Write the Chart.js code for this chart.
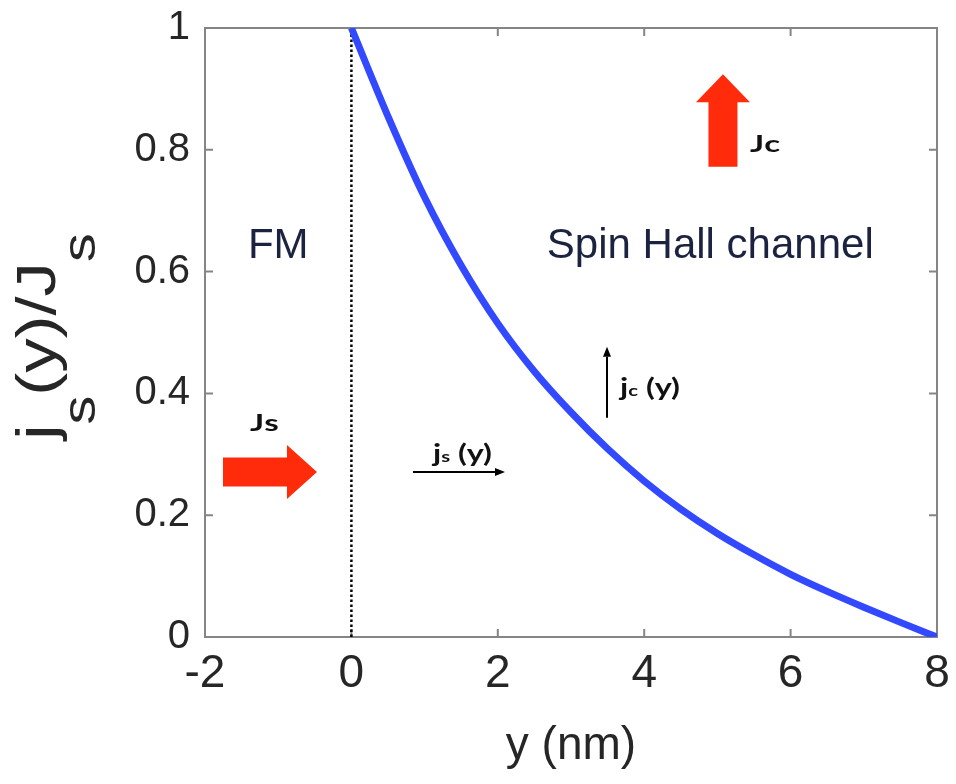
<!DOCTYPE html>
<html>
<head>
<meta charset="utf-8">
<script src="https://cdn.jsdelivr.net/npm/chart.js@4.4.1/dist/chart.umd.min.js"></script>
<style>
  html, body { margin: 0; padding: 0; background: #fff; }
  #wrap { width: 956px; height: 784px; }
</style>
</head>
<body>
<div id="wrap"><canvas id="chart"></canvas></div>
<script>
// values
const yPos = [0, 0.5, 1, 1.5, 2, 2.5, 3, 3.5, 4, 4.5, 5, 5.5, 6, 6.5, 7, 7.5, 8];
const spinCurrent = [1.0, 0.855, 0.722, 0.610, 0.515, 0.436, 0.369, 0.309, 0.256, 0.210, 0.170, 0.135, 0.103, 0.075, 0.049, 0.024, 0.0];
const interfaceX = [0, 0];
const interfaceY = [0, 1];
const xTicks = [-2, 0, 2, 4, 6, 8];
const yTicks = [0, 0.2, 0.4, 0.6, 0.8, 1];

const SANS = "'Liberation Sans', Arial, sans-serif";
const BOLD = "Lato, 'Open Sans', sans-serif";
const RED = '#ff2b0a';
Chart.defaults.font.family = SANS;

let ctx = document.getElementById('chart').getContext('2d');

function bigArrowH(c, x0, xh, tip, y, bw, hw) {
    c.beginPath();
    c.moveTo(x0, y - bw); c.lineTo(xh, y - bw); c.lineTo(xh, y - hw);
    c.lineTo(tip, y); c.lineTo(xh, y + hw); c.lineTo(xh, y + bw);
    c.lineTo(x0, y + bw); c.closePath(); c.fill();
}
function bigArrowV(c, x, y0, yh, tip, bw, hw) {
    c.beginPath();
    c.moveTo(x - bw, y0); c.lineTo(x - bw, yh); c.lineTo(x - hw, yh);
    c.lineTo(x, tip); c.lineTo(x + hw, yh); c.lineTo(x + bw, yh);
    c.lineTo(x + bw, y0); c.closePath(); c.fill();
}
function thinArrow(c, x0, y0, x1, y1) {
    const a = Math.atan2(y1 - y0, x1 - x0), L = 10, W = 4;
    c.beginPath(); c.moveTo(x0, y0);
    c.lineTo(x1 - L * Math.cos(a), y1 - L * Math.sin(a)); c.stroke();
    c.beginPath(); c.moveTo(x1, y1);
    c.lineTo(x1 - L * Math.cos(a) + W * Math.sin(a), y1 - L * Math.sin(a) - W * Math.cos(a));
    c.lineTo(x1 - L * Math.cos(a) - W * Math.sin(a), y1 - L * Math.sin(a) + W * Math.cos(a));
    c.closePath(); c.fill();
}
// text pieces one after another, optionally stretched sideways
function runs(c, x, y, parts, sx = 1) {
    c.save();
    c.translate(x, y);
    c.scale(sx, 1);
    let u = 0;
    parts.forEach(([t, font, dy]) => {
        c.font = font;
        c.fillText(t, u, dy);
        u += c.measureText(t).width;
    });
    c.restore();
}

const frame = {
    id: 'frame',
    beforeDatasetsDraw(chart) {
        const {ctx: c, chartArea: a, scales: {x, y}} = chart;
        c.save();
        c.strokeStyle = '#858585';
        c.lineWidth = 2;
        c.strokeRect(a.left, a.top, a.right - a.left, a.bottom - a.top);
        c.beginPath();
        xTicks.forEach(v => {
            const p = x.getPixelForValue(v);
            c.moveTo(p, a.bottom); c.lineTo(p, a.bottom - 8);
            c.moveTo(p, a.top); c.lineTo(p, a.top + 8);
        });
        yTicks.forEach(v => {
            const p = y.getPixelForValue(v);
            c.moveTo(a.left, p); c.lineTo(a.left + 8, p);
            c.moveTo(a.right, p); c.lineTo(a.right - 8, p);
        });
        c.stroke();
        c.restore();
    },
    afterDraw(chart) {
        const {ctx: c, chartArea: a, scales: {x, y}} = chart;
        const X = v => x.getPixelForValue(v), Y = v => y.getPixelForValue(v);
        c.save();
        c.textBaseline = 'alphabetic';

        // y axis title, j_s(y)/J_s
        c.fillStyle = '#262626';
        const parts = [['j', '55px ' + SANS, 0], ['s', '46px ' + SANS, 40],
                       ['(y)/J', '55px ' + SANS, 0], ['s', '46px ' + SANS, 40]];
        let len = 0;
        parts.forEach(([t, f]) => { c.font = f; len += c.measureText(t).width; });
        const sx = 1.25;
        c.save();
        c.translate(55, (a.top + a.bottom) / 2 + 4);
        c.rotate(-Math.PI / 2);
        runs(c, -len * sx / 2, 0, parts, sx);
        c.restore();

        // region labels
        c.fillStyle = '#1c2340';
        c.font = '42px ' + SANS;
        c.fillText('FM', X(-1.414), Y(0.623));
        c.fillText('Spin Hall channel', X(2.67), Y(0.623));

        // red current arrows
        c.fillStyle = RED;
        bigArrowH(c, X(-1.754), X(-0.88), X(-0.47), Y(0.271), 14.5, 27);
        bigArrowV(c, X(5.076), Y(0.772), Y(0.878), Y(0.924), 14.5, 27);

        // bold labels
        c.fillStyle = '#111';
        runs(c, X(-1.385), Y(0.339), [['J', 'bold 22px ' + BOLD, 0], ['s', 'bold 22px ' + BOLD, 0]], 1.5);
        runs(c, X(5.445), Y(0.797), [['J', 'bold 22px ' + BOLD, 0], ['c', 'bold 22px ' + BOLD, 0]], 1.5);
        runs(c, X(1.114), Y(0.288), [['j', 'bold 24px ' + BOLD, 0], ['s', 'bold 15px ' + BOLD, 0], [' (y)', 'bold 24px ' + BOLD, 0]], 1.35);
        runs(c, X(3.67), Y(0.396), [['j', 'bold 24px ' + BOLD, 0], ['c', 'bold 15px ' + BOLD, 0], [' (y)', 'bold 24px ' + BOLD, 0]], 1.35);

        // thin arrows
        c.strokeStyle = '#000';
        c.fillStyle = '#000';
        c.lineWidth = 2;
        thinArrow(c, X(0.841), Y(0.271), X(2.098), Y(0.271));
        thinArrow(c, X(3.492), Y(0.36), X(3.492), Y(0.4766));
        c.restore();
    }
};

let myChart = new Chart(ctx, {
    type: 'scatter',
    data: {
        datasets: [{
            label: 'js(y)/Js',
            data: yPos.map((v, i) => ({x: v, y: spinCurrent[i]})),
            showLine: true,
            borderColor: '#3349ff',
            borderWidth: 7,
            pointRadius: 0,
            cubicInterpolationMode: 'monotone',
            order: 1
        },
        {
            label: 'interface',
            data: interfaceX.map((v, i) => ({x: v, y: interfaceY[i]})),
            showLine: true,
            borderColor: '#000',
            borderWidth: 2.5,
            borderDash: [2.5, 2.5],
            pointRadius: 0,
            order: 2
        }]
    },
    options: {
        responsive: true,
        maintainAspectRatio: false,
        animation: false,
        layout: { padding: { top: 28, right: 19, left: 0, bottom: 0 } },
        scales: {
            x: {
                type: 'linear',
                min: -2, max: 8,
                afterBuildTicks: s => { s.ticks = xTicks.map(v => ({value: v})); },
                afterFit: s => { s.height = 147; s.paddingLeft = 0; s.paddingRight = 0; },
                grid: { display: false, drawTicks: false },
                border: { display: false },
                ticks: { color: '#262626', font: { size: 46 }, padding: 10, maxRotation: 0, callback: v => String(v) },
                title: { display: true, text: 'y (nm)', color: '#262626', font: { size: 46 }, padding: { top: 0, bottom: 10 } }
            },
            y: {
                min: 0, max: 1,
                afterBuildTicks: s => { s.ticks = yTicks.map(v => ({value: v})); },
                afterFit: s => { s.width = 205; s.paddingTop = 0; s.paddingBottom = 0; },
                grid: { display: false, drawTicks: false },
                border: { display: false },
                ticks: { color: '#262626', font: { size: 40 }, padding: 15, callback: v => String(v) }
            }
        },
        plugins: {
            legend: { display: false },
            tooltip: { enabled: false }
        }
    },
    plugins: [frame]
});
</script>
</body>
</html>
